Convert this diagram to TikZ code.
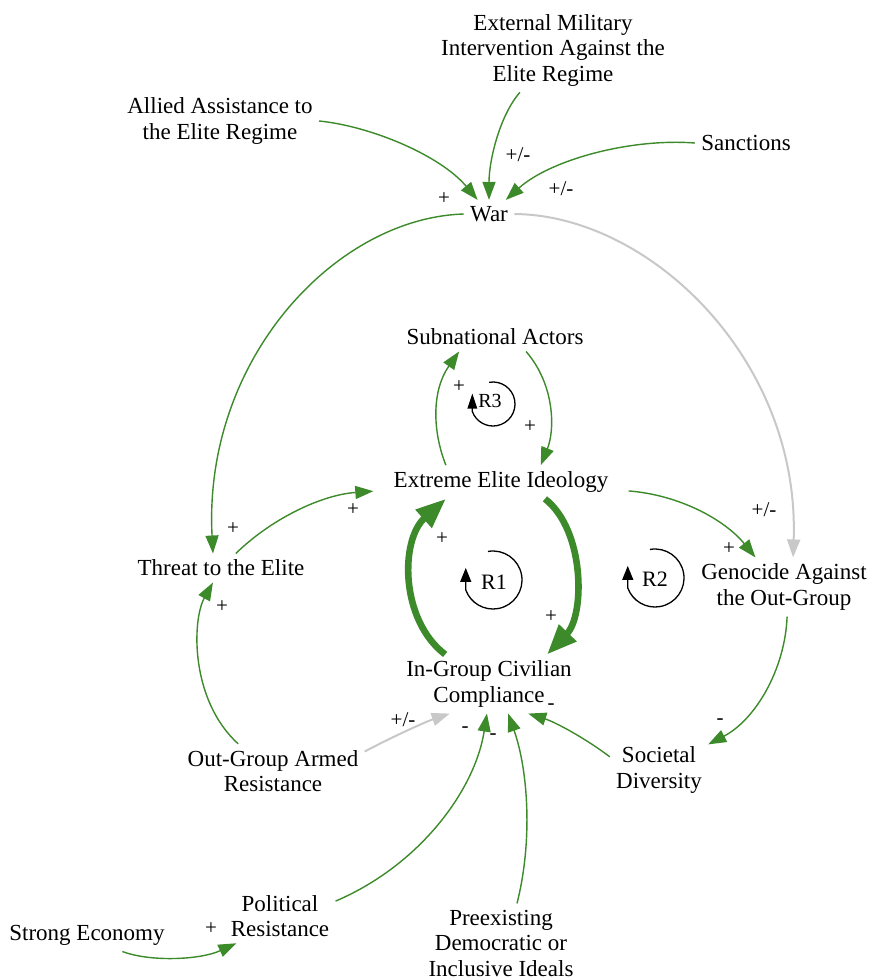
\documentclass[tikz,border=0pt]{standalone}
\usepackage{fontspec}
\setmainfont{Liberation Serif}
\usetikzlibrary{arrows.meta}
\definecolor{linkgreen}{RGB}{60,138,42}
\definecolor{linkgray}{RGB}{200,200,200}
\begin{document}
\begin{tikzpicture}[x=0.5pt,y=-0.5pt,
  var/.style={inner sep=3pt, align=center, font=\fontsize{11.5}{12.75}\selectfont},
  sgn/.style={inner sep=0pt, font=\fontsize{10.5}{11}\selectfont},
  rlab/.style={inner sep=0pt, font=\fontsize{11}{12}\selectfont},
  link/.style={draw=linkgreen, line width=0.7pt, -{Triangle[length=9pt,width=6.5pt]}},
  graylink/.style={draw=linkgray, line width=1pt, -{Triangle[length=9pt,width=6.5pt]}},
  thicklink/.style={draw=linkgreen, line width=3.3pt, -{Triangle[length=15pt,width=11.5pt]}},
  loopline/.style={draw=black, line width=0.65pt, -{Triangle[length=7pt,width=5.5pt]}}
]
\fill[white] (0,0) rectangle (871,980);
\useasboundingbox (0,0) rectangle (871,980);

% variables
\node[var] (ext) at (553,50) {External Military\\Intervention Against the\\Elite Regime};
\node[var] (allied) at (220,121) {Allied Assistance to\\the Elite Regime};
\node[var] (sanc) at (746,143) {Sanctions};
\node[var] (war) at (489,214) {War};
\node[var] (sub) at (495,337) {Subnational Actors};
\node[var, inner xsep=10pt] (ideo) at (501,482) {Extreme Elite Ideology};
\node[var] (threat) at (221,568) {Threat to the Elite};
\node[var] (geno) at (784,587) {Genocide Against\\the Out-Group};
\node[var] (comp) at (489,684) {In-Group Civilian\\Compliance};
\node[var] (oga) at (273,771) {Out-Group Armed\\Resistance};
\node[var] (soc) at (659,770) {Societal\\Diversity};
\node[var] (pol) at (280,916) {Political\\Resistance};
\node[var] (econ) at (87,935) {Strong Economy};
\node[var] (pre) at (501,943) {Preexisting\\Democratic or\\Inclusive Ideals};

% causal links
\draw[link] (allied.east) .. controls (370,126) and (440,155) .. (war.129);
\draw[link] (ext.-128) .. controls (500,115) and (489,160) .. (war.north);
\draw[link] (sanc.west) .. controls (630,138) and (550,160) .. (war.40);
\draw[link] (war.west) .. controls (335,218) and (203,360) .. (threat.119);
\draw[graylink] (war.east) .. controls (650,215) and (800,360) .. (geno.73);
\draw[link] (threat) .. controls (270,520) and (320,495) .. (ideo);
\draw[link] (oga.142) .. controls (190,700) and (192,620) .. (threat.-119);
\draw[link] (ideo.163) .. controls (432,430) and (432,390) .. (sub.202);
\draw[link] (sub.-25) .. controls (555,385) and (555,430) .. (ideo.23);
\draw[thicklink] (ideo.-21) .. controls (585,530) and (585,615) .. (comp.27);
\draw[thicklink] (comp.146) .. controls (400,620) and (400,540) .. (ideo.-163);
\draw[link] (ideo.-4) .. controls (680,495) and (725,520) .. (geno.134);
\draw[link] (geno.-84) .. controls (785,670) and (755,720) .. (soc);
\draw[link] (soc.165) .. controls (585,738) and (555,722) .. (comp.-37);
\draw[graylink] (oga.12) .. controls (390,738) and (425,722) .. (comp.-143);
\draw[link] (pol.15) .. controls (420,865) and (475,790) .. (comp.-94);
\draw[link] (pre.68) .. controls (533,840) and (528,770) .. (comp.-57);
\draw[link] (econ.-25) .. controls (150,962) and (200,960) .. (pol.-148);

% polarity signs
\node[sgn] (l1) at (444,199) {+};
\node[sgn] (l2) at (518,155) {+/-};
\node[sgn] (l3) at (561,189) {+/-};
\node[sgn] (l4) at (233,529) {+};
\node[sgn] (l5) at (353,510) {+};
\node[sgn] (l6) at (222,607) {+};
\node[sgn] (l7) at (459,387) {+};
\node[sgn] (l8) at (530,427) {+};
\node[sgn] (l9) at (442,539) {+};
\node[sgn] (l10) at (551,617) {+};
\node[sgn] (l11) at (764,510) {+/-};
\node[sgn] (l12) at (729,549) {+};
\node[sgn] (l13) at (720,722) {-};
\node[sgn] (l14) at (551,707) {-};
\node[sgn] (l15) at (403,720) {+/-};
\node[sgn] (l16) at (465,730) {-};
\node[sgn] (l17) at (493,737) {-};
\node[sgn] (l18) at (211,929) {+};

% reinforcing loop markers
\coordinate (r3) at (493,404);
\coordinate (r1) at (493,580);
\coordinate (r2) at (655,578);
\draw[loopline, -{Triangle[length=7.5pt,width=4.8pt]}] (r3) ++(100:11pt) arc[start angle=100, end angle=-160, radius=11pt] -- ++(0,-18);
\draw[loopline] (r1) ++(100:14.5pt) arc[start angle=100, end angle=-160, radius=14.5pt] -- ++(0,-22);
\draw[loopline] (r2) ++(100:14.5pt) arc[start angle=100, end angle=-160, radius=14.5pt] -- ++(0,-22);
\node[rlab, font=\fontsize{10}{11}\selectfont] (r3lab) at (490,401) {R3};
\node[rlab] (r1lab) at (494,582) {R1};
\node[rlab] (r2lab) at (655,579) {R2};
\end{tikzpicture}
\end{document}
